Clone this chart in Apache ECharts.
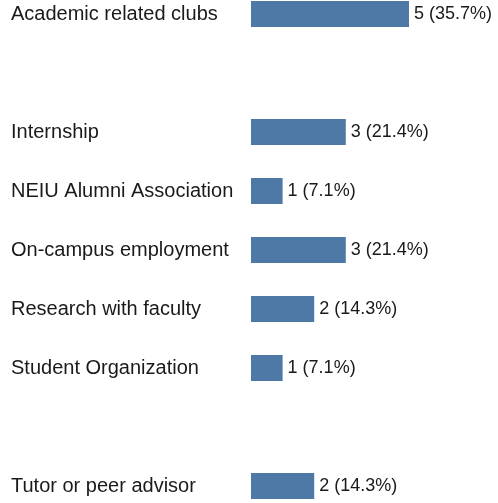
<!DOCTYPE html>
<html>
<head>
<meta charset="utf-8">
<script src="https://cdn.jsdelivr.net/npm/echarts@6/dist/echarts.min.js"></script>
<style>
    html, body { margin: 0; padding: 0; background: #fff; }
    #chart { width: 498px; height: 503px; }
</style>
</head>
<body>
<div id="chart"></div>
<script>
// blank entries are empty rows in the original layout
const categories = [
    'Academic related clubs',
    ' ',
    'Internship',
    'NEIU Alumni Association',
    'On-campus employment',
    'Research with faculty',
    'Student Organization',
    '  ',
    'Tutor or peer advisor'
]
const counts = [5, null, 3, 1, 3, 2, 1, null, 2]
// percentages are of respondents (multiple answers allowed)
const respondents = 14

const chart = echarts.init(document.getElementById('chart'))

const option = {
    animation: false,
    grid: {
        left: 251,
        right: 89,
        top: 14,
        bottom: 17
    },
    xAxis: {
        type: 'value',
        min: 0,
        max: 5,
        show: false
    },
    yAxis: {
        type: 'category',
        data: categories,
        inverse: true,
        boundaryGap: false,
        axisLine: { show: false },
        axisTick: { show: false },
        splitLine: { show: false },
        axisLabel: {
            align: 'left',
            margin: 240,
            color: '#1a1a1a',
            fontFamily: 'Liberation Sans, Arial, sans-serif',
            fontSize: 20
        }
    },
    series: [
        {
            type: 'bar',
            data: counts,
            barWidth: 26,
            clip: false,
            itemStyle: { color: '#4e79a6' },
            label: {
                show: true,
                position: 'right',
                distance: 5,
                color: '#1a1a1a',
                fontFamily: 'Liberation Sans, Arial, sans-serif',
                fontSize: 18,
                formatter: p => p.value + ' (' + (p.value / respondents * 100).toFixed(1) + '%)'
            }
        }
    ]
}

chart.setOption(option)
</script>
</body>
</html>
